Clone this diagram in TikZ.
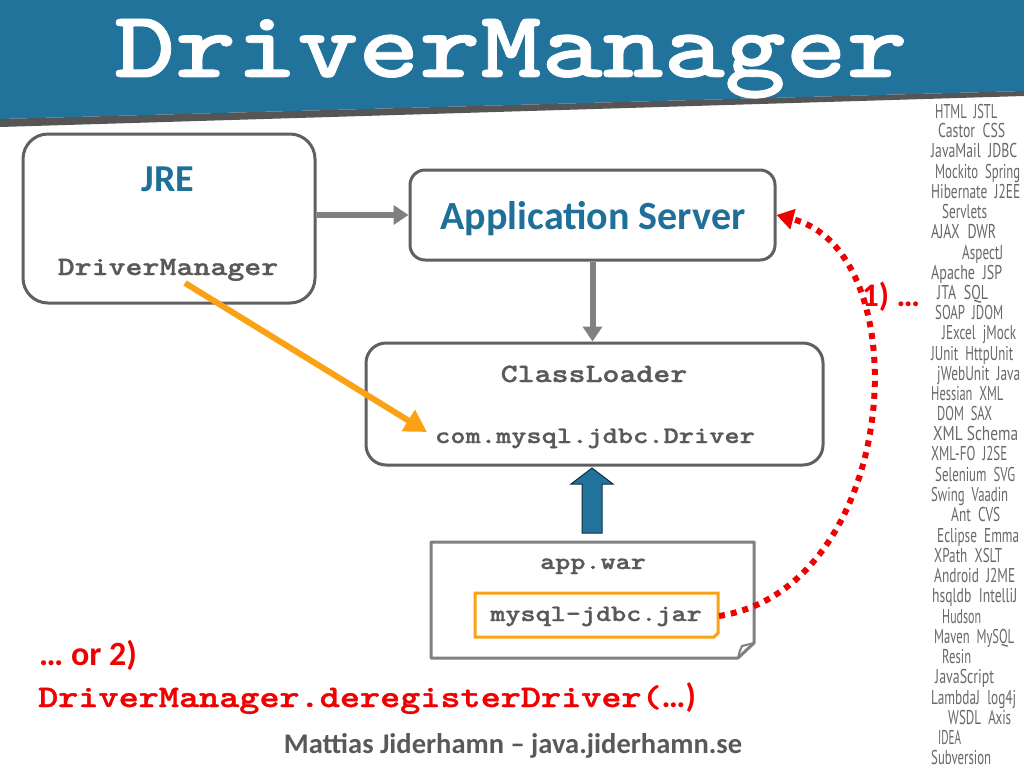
\documentclass[tikz,border=0pt]{standalone}
\usepackage{fontspec}
\usepackage{graphicx}
\setmainfont{Carlito}
\newfontfamily\cloudfont{PT Sans}
\newfontfamily\courfont{lmmonolt10-bold.otf}[FakeBold=1.2,FakeStretch=1.224]
\newfontfamily\courtitle{lmmonolt10-bold.otf}[FakeBold=0.8,FakeStretch=1.224]
\usetikzlibrary{arrows.meta}
\definecolor{hblue}{RGB}{34,115,155}
\definecolor{tblue}{RGB}{31,112,152}
\definecolor{shgray}{RGB}{85,85,85}
\definecolor{bgray}{RGB}{96,96,96}
\definecolor{tgray}{RGB}{89,89,89}
\definecolor{agray}{RGB}{128,128,128}
\definecolor{orng}{RGB}{250,162,20}
\definecolor{cgray}{RGB}{105,105,105}
\definecolor{rred}{RGB}{240,0,0}
\definecolor{darkblue}{RGB}{20,45,65}
\newcommand\g{\hspace{0.55em}}
% Courier-like: Latin Modern Mono bold, widened
\newcommand\cour[2]{{\courfont\fontsize{#1}{#1}\selectfont #2}}
\begin{document}
\begin{tikzpicture}[x=1pt,y=-1pt,
  box/.style={draw=bgray,line width=3pt,rounded corners=#1,inner sep=0pt},
  monotxt/.style={text=tgray,inner sep=0pt,anchor=base},
  titletxt/.style={text=tblue,font=\bfseries\fontsize{#1}{#1}\selectfont,inner sep=0pt,anchor=base},
  redtxt/.style={text=rred,font=\bfseries\fontsize{#1}{#1}\selectfont,inner sep=0pt,anchor=base west},
  grayarrow/.style={draw=agray,line width=6pt,-{Triangle[length=15pt,width=19pt]}},
  cloud/.style={text=cgray,font=\cloudfont\fontsize{20}{20}\selectfont,inner sep=0pt,anchor=base west}]
\useasboundingbox (0,0) rectangle (1024,768);
\fill[white] (0,0) rectangle (1024,768);
% header
\fill[hblue] (0,0) -- (1024,0) -- (1024,91) -- (0,119) -- cycle;
\fill[shgray] (0,119) -- (1024,91) -- (1024,96) -- (0,127) -- cycle;
\node[anchor=base,inner sep=0pt,text=white] (title) at (511,77) {{\courtitle\fontsize{95}{95}\selectfont DriverManager}};
% boxes
\node[box=25pt,minimum width=292pt,minimum height=169pt] (jre) at (169,218.5) {};
\node[box=15pt,minimum width=365pt,minimum height=90pt] (as) at (592.5,215) {};
\node[box=20pt,minimum width=457pt,minimum height=122pt] (cl) at (594.5,404) {};
% texts
\node[titletxt=38] (jret) at (168,191) {JRE};
\node[monotxt] (dmt) at (168,275) {\cour{26.4}{DriverManager}};
\node[titletxt=40] (ast) at (593,229) {Application Server};
\node[monotxt] (clt) at (594,382) {\cour{26.4}{ClassLoader}};
\node[monotxt] (drv) at (595,443) {\cour{23.7}{com.mysql.jdbc.Driver}};
% gray arrows
\draw[grayarrow] (jre.east |- as.west) -- (as.west);
\draw[grayarrow] (as.south) -- (as.south |- cl.north);
% orange arrow
\coordinate (o1) at (185,283);
\coordinate (o2) at (427,432);
\draw[draw=orng,line width=6pt,-{Triangle[length=22pt,width=24pt]}] (o1) -- (o2);
% blue block arrow
\draw[fill=hblue,draw=darkblue,line width=1pt] (582,533) -- (582,484) -- (571,484) -- (592,468) -- (613,484) -- (602,484) -- (602,533) -- cycle;
% app.war note
\draw[agray,line width=3pt,line join=round] (431,542) -- (754,542) -- (754,643) -- (738,658) -- (431,658) -- cycle;
\draw[agray,line width=2pt] (738,658) .. controls (740,650) .. (742,646) -- (754,643);
\node[monotxt] (war) at (593,569) {\cour{23.5}{app.war}};
% jar box
\draw[orng,line width=3pt] (475,593) -- (718,593) -- (718,633) -- (714,637) -- (475,637) -- cycle;
\node[monotxt] (jart) at (596,621) {\cour{23.5}{mysql-jdbc.jar}};
\coordinate (jar) at (719,616);
% red dotted arrow
\draw[draw=rred,line width=6pt,dash pattern=on 6pt off 6pt,-{Triangle[length=17pt,width=20pt]}] (jar) .. controls (900,588) and (922,252) .. (as.east);
\node[redtxt=33] (one) at (862,306) {1) …};
% bottom texts
\node[redtxt=34] (or2) at (39,665) {… or 2)};
\node[redtxt=33.5] (dereg) at (38,707) {\cour{31.3}{DriverManager.deregisterDriver(}…)};
\node[anchor=base,inner sep=0pt,text=tgray,font=\bfseries\fontsize{28.5}{28.5}\selectfont] (author) at (513,753) {Mattias Jiderhamn – java.jiderhamn.se};
% word cloud
\foreach \a/\b/\y/\t [count=\i] in {
 935/997/111/HTML\g JSTL,
 938/1005/130/Castor\g CSS,
 931/1017/150/JavaMail\g JDBC,
 935/1020/171/Mockito\g Spring,
 931/1020/191/Hibernate\g J2EE,
 942/987/211/Servlets,
 931/996/231/AJAX\g DWR,
 962/1003/252/AspectJ,
 931/1002/272/Apache\g JSP,
 937/988/292/JTA\g SQL,
 935/1003/312/SOAP\g JDOM,
 942/1016/332/JExcel\g jMock,
 931/1013/353/JUnit\g HttpUnit,
 937/1020/373/jWebUnit\g Java,
 931/1003/393/Hessian\g XML,
 937/992/413/DOM\g SAX,
 933/1018/433/XML Schema,
 931/1007/453/XML-FO\g J2SE,
 935/1015/474/Selenium\g SVG,
 931/1008/494/Swing\g Vaadin,
 951/1000/514/Ant\g CVS,
 937/1019/535/Eclipse\g Emma,
 934/1002/555/XPath\g XSLT,
 934/1015/575/Android\g J2ME,
 932/1017/595/hsqldb\g IntelliJ,
 942/981/616/Hudson,
 934/1014/636/Maven\g MySQL,
 942/971/656/Resin,
 935/994/676/JavaScript,
 931/1016/697/LambdaJ\g log4j,
 948/1011/717/WSDL\g Axis,
 938/961/737/IDEA,
 931/991/757/Subversion} {
  \pgfmathsetmacro\w{\b-\a}
  \node[cloud] (w\i) at (\a,\y+7) {\resizebox{\w pt}{\height}{\t}};
}
\end{tikzpicture}
\end{document}
